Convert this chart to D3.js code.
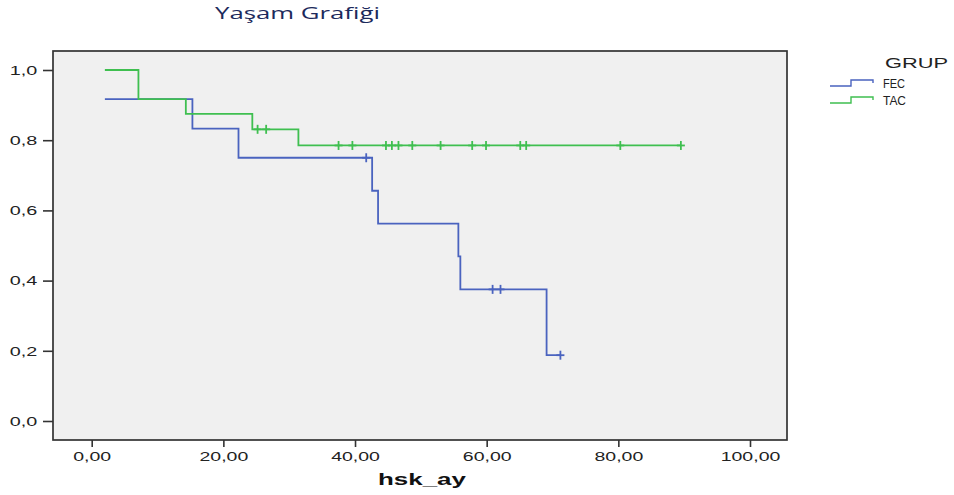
<!DOCTYPE html>
<html>
<head>
<meta charset="utf-8">
<script src="https://cdn.jsdelivr.net/npm/d3@7"></script>
<style>
  html, body { margin: 0; padding: 0; background: #ffffff; }
  svg { display: block; }
</style>
</head>
<body>
<svg id="chart" width="954" height="495"></svg>
<script>
// ---- data ----
const titleText = "Yaşam Grafiği";
const xLabel = "hsk_ay";
const legendTitle = "GRUP";
const groups = ["FEC", "TAC"];
const xTicks = [0, 20, 40, 60, 80, 100];
const yTicks = [0, 0.2, 0.4, 0.6, 0.8, 1.0];

// FEC: step points [time, survival]
const fecTimes = [2.0, 15.3, 22.3, 42.6, 43.5, 55.7, 56.0, 69.1, 71.2];
const fecSurv  = [0.917, 0.833, 0.75, 0.656, 0.5625, 0.469, 0.375, 0.1875, 0.1875];
const fecCensored = [41.7, 60.9, 62.1, 71.2];

// TAC: step points [time, survival]
const tacTimes = [2.0, 7.1, 14.3, 24.4, 31.4, 89.5];
const tacSurv  = [1.0, 0.917, 0.875, 0.831, 0.785, 0.785];
const tacCensored = [25.2, 26.5, 37.5, 39.6, 44.7, 45.6, 46.6, 48.7, 53.0, 57.8, 59.9, 65.1, 66.0, 80.3, 89.5];

const colors = { FEC: "#4a63bf", TAC: "#3fbf50" };

// ---- layout ----
const svg = d3.select("#chart");
const frame = { left: 53, top: 51, right: 787, bottom: 440 };
const x = d3.scaleLinear().domain([0, 100]).range([91.7, 750]);
const y = d3.scaleLinear().domain([0, 1]).range([421, 70]);

// title
svg.append("text")
  .attr("x", 215).attr("y", 19)
  .attr("textLength", 165).attr("lengthAdjust", "spacingAndGlyphs")
  .style("font-family", "'Open Sans', 'Noto Sans', sans-serif")
  .style("font-size", "16px")
  .attr("fill", "#1c2a5c")
  .text(titleText);

// plot frame
svg.append("rect")
  .attr("x", frame.left).attr("y", frame.top)
  .attr("width", frame.right - frame.left).attr("height", frame.bottom - frame.top)
  .attr("fill", "#f0f0f0").attr("stroke", "#333").attr("stroke-width", 1.7);

const fmtX = d => d.toFixed(2).replace(".", ",");
const fmtY = d => d.toFixed(1).replace(".", ",");

// x axis
const xAxis = svg.append("g")
  .attr("transform", `translate(0,${frame.bottom})`)
  .call(d3.axisBottom(x).tickValues(xTicks).tickFormat(fmtX).tickSize(7));
xAxis.select(".domain").remove();
xAxis.selectAll("line").attr("stroke", "#333").attr("stroke-width", 1.6);
const sxX = 1.5;
xAxis.selectAll("text")
  .attr("y", 21).attr("dy", 0)
  .attr("transform", `scale(${sxX},1)`)
  .style("font-family", "'Liberation Sans', Arial, sans-serif")
  .style("font-size", "13px")
  .attr("fill", "#222");

// y axis
const yAxis = svg.append("g")
  .attr("transform", `translate(${frame.left},0)`)
  .call(d3.axisLeft(y).tickValues(yTicks).tickFormat(fmtY).tickSize(10));
yAxis.select(".domain").remove();
yAxis.selectAll("line").attr("stroke", "#333").attr("stroke-width", 1.6);
const sxY = 1.65;
yAxis.selectAll("text")
  .attr("x", -15.8 / sxY).attr("dy", "0.35em")
  .attr("transform", `scale(${sxY},1)`)
  .style("font-family", "'Liberation Sans', Arial, sans-serif")
  .style("font-size", "12px")
  .attr("fill", "#222");

// x label
svg.append("text")
  .attr("x", 378).attr("y", 485)
  .attr("textLength", 88).attr("lengthAdjust", "spacingAndGlyphs")
  .style("font-family", "'Liberation Sans', Arial, sans-serif")
  .style("font-size", "17px").style("font-weight", "bold")
  .attr("fill", "#111")
  .text(xLabel);

// survival curves
const line = d3.line().x(d => x(d[0])).y(d => y(d[1])).curve(d3.curveStepAfter);
const series = [
  { name: "FEC", pts: d3.zip(fecTimes, fecSurv), cens: fecCensored },
  { name: "TAC", pts: d3.zip(tacTimes, tacSurv), cens: tacCensored }
];

function survAt(pts, t) {
  let s = pts[0][1];
  for (const p of pts) { if (p[0] <= t) s = p[1]; }
  return s;
}

series.forEach(sr => {
  const g = svg.append("g");
  g.append("path")
    .attr("d", line(sr.pts))
    .attr("fill", "none")
    .attr("stroke", colors[sr.name])
    .attr("stroke-width", 1.8);
  sr.cens.forEach(t => {
    const cx = x(t), cy = y(survAt(sr.pts, t));
    g.append("line").attr("x1", cx).attr("x2", cx).attr("y1", cy - 4.5).attr("y2", cy + 4.5)
      .attr("stroke", colors[sr.name]).attr("stroke-width", 1.8);
    g.append("line").attr("x1", cx - 4).attr("x2", cx + 4).attr("y1", cy).attr("y2", cy)
      .attr("stroke", colors[sr.name]).attr("stroke-width", 1.8);
  });
});

// legend
svg.append("text")
  .attr("x", 885).attr("y", 68)
  .attr("textLength", 63).attr("lengthAdjust", "spacingAndGlyphs")
  .style("font-family", "'Liberation Sans', Arial, sans-serif")
  .style("font-size", "15px")
  .attr("fill", "#222")
  .text(legendTitle);

const legendRows = [
  { name: groups[0], low: 86, high: 80, textY: 88, w: 22 },
  { name: groups[1], low: 103, high: 97, textY: 105, w: 23 }
];
legendRows.forEach(r => {
  const pts = [[830, r.low], [851, r.low], [851, r.high], [873, r.high], [873, r.high + 3]];
  svg.append("path")
    .attr("d", d3.line()(pts))
    .attr("fill", "none").attr("stroke", colors[r.name]).attr("stroke-width", 1.4);
  svg.append("text")
    .attr("x", 883).attr("y", r.textY)
    .attr("textLength", r.w).attr("lengthAdjust", "spacingAndGlyphs")
    .style("font-family", "'Liberation Sans', Arial, sans-serif")
    .style("font-size", "13px")
    .attr("fill", "#222")
    .text(r.name);
});
</script>
</body>
</html>
